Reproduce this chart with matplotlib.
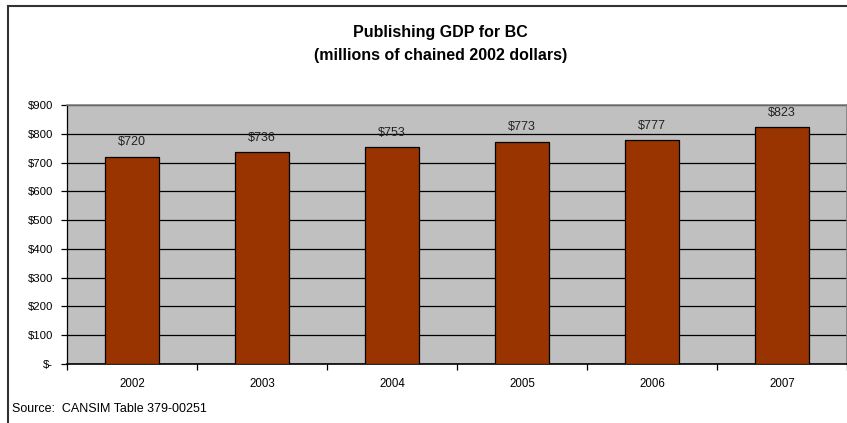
import matplotlib.pyplot as plt
from matplotlib.lines import Line2D
import numpy as np

years = ["2002", "2003", "2004", "2005", "2006", "2007"]
gdp = [720, 736, 753, 773, 777, 823]
yticks = [0, 100, 200, 300, 400, 500, 600, 700, 800, 900]
ytick_labels = ["$-", "$100", "$200", "$300", "$400", "$500", "$600", "$700", "$800", "$900"]

plt.rcParams['font.family'] = ['Liberation Sans', 'DejaVu Sans']

fig = plt.figure(figsize=(8.47, 4.23), dpi=100)
ax = fig.add_axes([0.0791, 0.1395, 0.9209, 0.612])
ax.set_facecolor("#C0C0C0")

x = np.arange(len(years))
ax.bar(x, gdp, width=0.41, color="#993300", edgecolor="black", linewidth=0.9, zorder=3)
for xi, v in zip(x, gdp):
    ax.text(xi, v + 30, f"${v}", ha="center", va="bottom", fontsize=9, color="#222222", zorder=4)

ax.set_xlim(-0.5, len(years) - 0.5)
ax.set_ylim(0, 900)
ax.set_yticks(yticks)
ax.set_yticklabels(ytick_labels, fontsize=8.2)
ax.yaxis.grid(True, color="black", linewidth=0.9, zorder=1)
ax.set_axisbelow(True)

# category labels centred, tick marks at category boundaries
ax.set_xticks(x)
ax.set_xticklabels(years, fontsize=8.3)
ax.tick_params(axis="x", length=0, pad=10)
ax.set_xticks(np.arange(len(years) + 1) - 0.5, minor=True)
ax.tick_params(axis="x", which="minor", length=4, width=0.9, direction="out")
ax.tick_params(axis="y", length=4, width=0.9, direction="out", pad=6)

for side in ["top", "right"]:
    ax.spines[side].set_color("#808080")
    ax.spines[side].set_linewidth(1.2)
ax.spines["left"].set_linewidth(0.9)
ax.spines["bottom"].set_linewidth(1.2)

fig.text(0.52, 0.924, "Publishing GDP for BC", ha="center", va="center",
         fontsize=11.5, fontweight="bold")
fig.text(0.52, 0.869, "(millions of chained 2002 dollars)", ha="center", va="center",
         fontsize=11.5, fontweight="bold")
fig.text(0.014, 0.033, "Source:  CANSIM Table 379-00251", ha="left", va="center", fontsize=9)

# outer chart frame
fig.add_artist(Line2D([0.0095, 0.0095], [0, 0.986], color="#333333", linewidth=1.5))
fig.add_artist(Line2D([0.0095, 1.0], [0.986, 0.986], color="#333333", linewidth=1.5))

fig.savefig("out.png", dpi=100)
